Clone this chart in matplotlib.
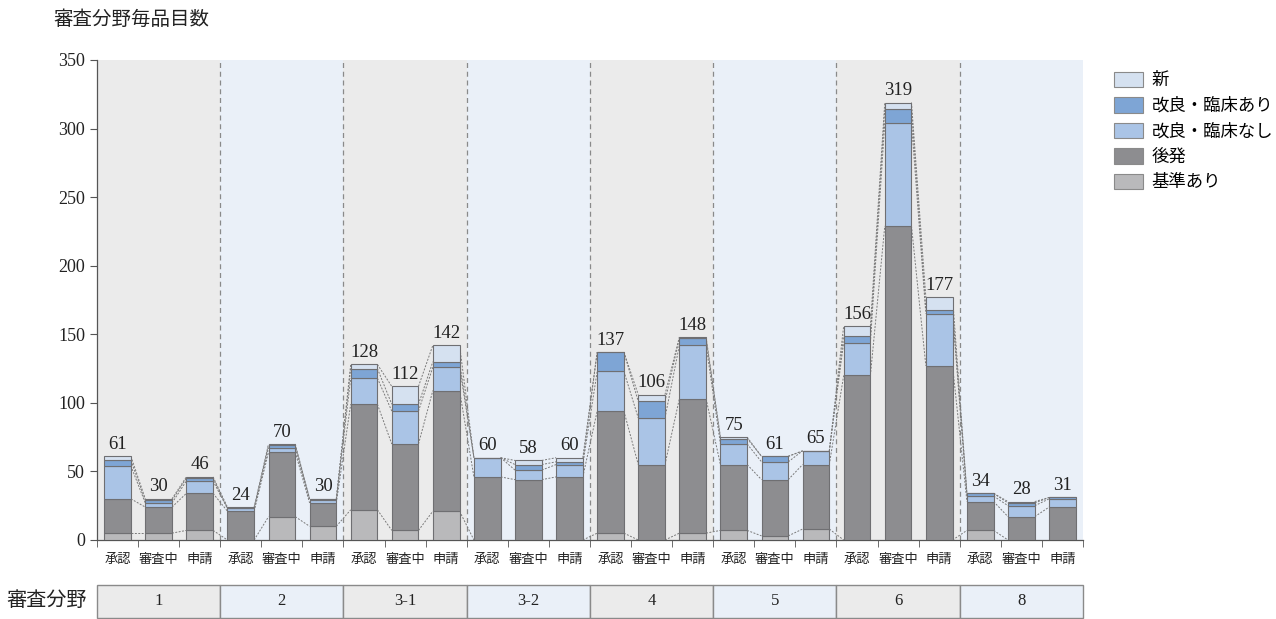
import matplotlib
matplotlib.use("Agg")
import matplotlib.pyplot as plt
from matplotlib.patches import Rectangle, Patch
from matplotlib.transforms import blended_transform_factory
import numpy as np

plt.rcParams['font.family'] = ['Liberation Serif', 'Noto Sans CJK JP']

# review fields and the three stages shown inside each field
fields = ["1", "2", "3-1", "3-2", "4", "5", "6", "8"]
stages = ["承認", "審査中", "申請"]

# item counts per bar (field x stage), stacked bottom -> top
kijun   = [5, 5, 7,   0, 17, 10,  22, 7, 21,  0, 0, 0,   5, 0, 5,    7, 3, 8,    0, 0, 0,      7, 0, 0]
kohatsu = [25, 19, 27, 21, 47, 17, 77, 63, 88, 46, 44, 46, 89, 55, 98, 48, 41, 47, 120, 229, 127, 21, 17, 24]
kairyo_nashi = [24, 3, 9, 2, 3, 2, 19, 24, 17, 14, 7, 9, 29, 34, 39, 15, 13, 10, 24, 75, 38, 4, 8, 6]
kairyo_ari   = [4, 2, 2, 0, 2, 1, 7, 5, 4, 0, 4, 2, 14, 12, 5, 4, 4, 0, 5, 10, 3, 2, 2, 1]
shin         = [3, 1, 1, 1, 1, 0, 3, 13, 12, 0, 3, 3, 0, 5, 1, 1, 0, 0, 7, 5, 9, 0, 1, 0]

series = [
    ("基準あり", kijun, "#b9b9bb"),
    ("後発", kohatsu, "#8d8d90"),
    ("改良・臨床なし", kairyo_nashi, "#aac4e6"),
    ("改良・臨床あり", kairyo_ari, "#7ea5d5"),
    ("新", shin, "#d5e1f0"),
]

band_colors = ["#ebebeb", "#eaf0f8"]

fig = plt.figure(figsize=(12.76, 6.19), dpi=100)
fig.patch.set_facecolor("white")
ax = fig.add_axes([97/1276, 1-540/619, (1083-97)/1276, 480/619])

n = len(kijun)
x = np.arange(n) + 0.5
w = 0.65

# alternating field backgrounds and dashed separators
for g in range(len(fields)):
    ax.axvspan(3*g, 3*g+3, color=band_colors[g % 2], zorder=0, lw=0)
    if g > 0:
        ax.axvline(3*g, color="#8a8a8a", lw=0.9, ls=(0, (4, 3)), zorder=1)

# stacked bars
bottom = np.zeros(n)
levels = []
for name, vals, col in series:
    vals = np.array(vals, dtype=float)
    ax.bar(x, vals, w, bottom=bottom, color=col, edgecolor="#6f6f72", lw=0.8, zorder=3)
    bottom = bottom + vals
    levels.append(bottom.copy())

# dashed guide lines joining segment tops of neighbouring bars
for lev in levels:
    for i in range(n - 1):
        ax.plot([x[i] + w/2, x[i+1] - w/2], [lev[i], lev[i+1]],
                color="#7a7a7a", lw=0.7, ls=(0, (2, 1.5)), zorder=2)

totals = bottom
for xi, t in zip(x, totals):
    ax.text(xi, t + 2.5, f"{int(t)}", ha="center", va="bottom", fontsize=13.5, color="#222222", zorder=4)

ax.set_xlim(0, n)
ax.set_ylim(0, 350)
ax.set_yticks(range(0, 351, 50))
ax.tick_params(axis="y", labelsize=13, colors="#555555", labelcolor="#222222", length=5)
ax.set_xticks(x)
ax.set_xticklabels(stages * len(fields), fontsize=9.5, color="#222222")
ax.set_xticks(np.arange(0, n + 1), minor=True)
ax.tick_params(axis="x", which="major", length=0, pad=10)
ax.tick_params(axis="x", which="minor", length=5, color="#555555")
for s in ["top", "right"]:
    ax.spines[s].set_visible(False)
for s in ["left", "bottom"]:
    ax.spines[s].set_color("#555555")
    ax.spines[s].set_linewidth(0.9)

# field boxes under the axis
trans = blended_transform_factory(ax.transData, ax.transAxes)
for g, f in enumerate(fields):
    ax.add_patch(Rectangle((3*g, -0.1625), 3, 0.0688, transform=trans, clip_on=False,
                           facecolor=band_colors[g % 2], edgecolor="#8a8a8a", lw=1.0))
    ax.text(3*g + 1.5, -0.128, f, transform=trans, ha="center", va="center",
            fontsize=12, color="#222222")
fig.text(47/1276, 1-602/619, "審査分野", ha="center", va="center", fontsize=14.5, color="#222222")

fig.text(53/1276, 1-20/619, "審査分野毎品目数", ha="left", va="center", fontsize=14, color="#222222")

handles = [Patch(facecolor=col, edgecolor="#8a8a8a", lw=0.8, label=name) for name, _, col in series][::-1]
fig.legend(handles=handles, loc="upper left", bbox_to_anchor=(1098/1276, 1-56/619),
           frameon=False, fontsize=12.5, handlelength=1.7, handleheight=1.0,
           labelspacing=0.45, handletextpad=0.5)

fig.savefig("out.png", dpi=100)
